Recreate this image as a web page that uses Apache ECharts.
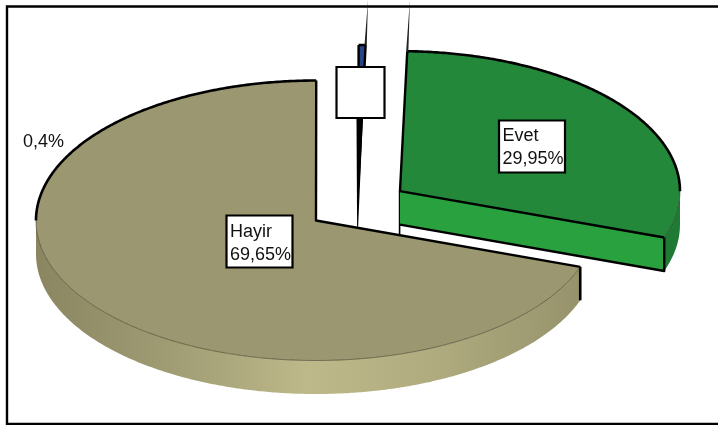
<!DOCTYPE html>
<html>
<head>
<meta charset="utf-8">
<style>html,body{margin:0;padding:0;background:#fff}#c{width:718px;height:425px}</style>
<script src="https://cdn.jsdelivr.net/npm/echarts@6/dist/echarts.min.js"></script>
</head>
<body>
<div id="c"></div>
<script>
// Answer shares, in drawing order clockwise from the top of the pie
const sliceNames = ['', 'Evet', 'Hayir'];
const sliceValues = [0.4, 29.95, 69.65];
const valueTexts = ['', '29,95%', '69,65%'];
const outsideLabel = '0,4%';

// Projection of the tilted pie
const pieCentre = [357.8, 205.7];
const radiusX = 280;
const radiusY = 140;
const depth = 33.5;
const firstAngle = 270.05;
const explode = [0.148, 0.183, 0.183];

const topColors = ['#2a4585', '#23883a', '#9b9770'];
const faceColors = ['#000000', '#2aa13f', '#9b9770'];
const wallColors = ['#111111', '#1f7a33', null];
const oliveWall = {
  type: 'linear', x: 0, y: 0, x2: 1, y2: 0,
  colorStops: [
    { offset: 0, color: '#8a8661' },
    { offset: 0.25, color: '#a09c74' },
    { offset: 0.5, color: '#bdb98a' },
    { offset: 0.75, color: '#aeaa7e' },
    { offset: 1, color: '#96926b' }
  ]
};
const boxes = [
  { x: 336.5, y: 67, w: 48, h: 51, tx: 0, ty: 0 },
  { x: 499, y: 120.5, w: 66, h: 52, tx: 3.5, ty: 3.5 },
  { x: 226.5, y: 215.5, w: 66, h: 52, tx: 3.5, ty: 4.5 }
];

const total = sliceValues.reduce((a, b) => a + b, 0);
const starts = [];
sliceValues.reduce((acc, v, i) => { starts[i] = acc; return acc + v / total * 360; }, firstAngle);

const rad = d => d * Math.PI / 180;

function arcPoints(cx, cy, a0, a1, dy) {
  const n = Math.max(2, Math.ceil(Math.abs(a1 - a0) * 2));
  const pts = [];
  for (let i = 0; i <= n; i++) {
    const a = rad(a0 + (a1 - a0) * i / n);
    pts.push([cx + radiusX * Math.cos(a), cy + radiusY * Math.sin(a) + (dy || 0)]);
  }
  return pts;
}

// Clip an angular span to the part that lies between two angles, modulo 360
function overlap(a0, a1, lo, hi) {
  for (const k of [-360, 0, 360]) {
    const s = Math.max(a0, lo + k), e = Math.min(a1, hi + k);
    if (e > s) return [s, e];
  }
  return null;
}

function renderSlice(params, api) {
  const i = params.dataIndex;
  const share = api.value(0);
  const a0 = starts[i];
  const a1 = a0 + share / total * 360;
  const mid = rad((a0 + a1) / 2);
  const cx = pieCentre[0] + explode[i] * radiusX * Math.cos(mid);
  const cy = pieCentre[1] + explode[i] * radiusY * Math.sin(mid);
  const children = [];
  const edge = '#000';
  const layer = i * 10;

  const poly = (points, fill, z2) => ({ type: 'polygon', z2: layer + z2, shape: { points }, style: { fill, stroke: null } });
  const line = (points, width, colour, z2) => ({
    type: 'polyline', z2: layer + z2, shape: { points },
    style: { fill: 'none', stroke: colour || edge, lineWidth: width, lineJoin: 'round', lineCap: 'butt' }
  });

  const startPt = [cx + radiusX * Math.cos(rad(a0)), cy + radiusY * Math.sin(rad(a0))];
  const endPt = [cx + radiusX * Math.cos(rad(a1)), cy + radiusY * Math.sin(rad(a1))];

  // Outer wall on the front half of the rim
  const front = overlap(a0, a1, 0, 180);
  if (front) {
    const upper = arcPoints(cx, cy, front[0], front[1], 0);
    const lower = arcPoints(cx, cy, front[1], front[0], depth);
    children.push(poly(upper.concat(lower), wallColors[i] || oliveWall, 1));
  }
  // Cut face turned towards the viewer
  if (i === 1) {
    const p = endPt;
    children.push(poly([[cx, cy], p, [p[0], p[1] + depth], [cx, cy + depth]], faceColors[i], 2));
    children.push(line([[p[0], p[1]], [p[0], p[1] + depth], [cx, cy + depth]], 2.4, edge, 5));
  }
  // End of the wall of the large slice
  if (i === 2) {
    children.push(line([startPt, [startPt[0], startPt[1] + depth]], 2.6, edge, 5));
  }
  // Top surface
  const topRim = arcPoints(cx, cy, a0, a1, 0);
  children.push(poly([[cx, cy]].concat(topRim), topColors[i], 3));

  // Rim: heavy along the back, hairline where the wall begins
  const back = overlap(a0, a1, 180, 360);
  if (back) children.push(line(arcPoints(cx, cy, back[0], back[1], 0), 2.6, edge, 6));
  if (front) children.push(line(arcPoints(cx, cy, front[0], front[1], 0), 0.7, 'rgba(40,40,20,0.75)', 6));

  // Straight edges running to the centre
  children.push(line([startPt, [cx, cy], endPt], 2.4, edge, 6));

  // Edge continuing past the rim to the top of the page, thinning out
  if (i !== 2) {
    const o = i === 1 ? startPt : endPt;
    const t = cy / (cy - o[1]);
    const tip = [cx + (o[0] - cx) * t, 0];
    children.push({
      type: 'polygon', z2: layer + 6,
      shape: { points: [[o[0] - 1.1, o[1]], [o[0] + 1.1, o[1]], tip] },
      style: { fill: '#222', stroke: null }
    });
  }
  // The sliver closes into a dark spike that runs down behind the large slice
  if (i === 0) {
    const halfway = (p, k) => [cx + (p[0] - cx) * k, cy + (p[1] - cy) * k];
    const l = halfway(startPt, 0.5);
    const r = halfway(endPt, 0.5);
    children.push(poly([[l[0] - 2, l[1]], [r[0] + 1, r[1]], [cx - 0.6, cy + 50], [cx - 1.2, cy + 50]], edge, 7));
  }
  if (i === 1) {
    children.push(line([[cx - 0.4, cy], [cx - 0.4, cy + 60]], 1.6, edge, 1));
  }

  // Label box
  const b = boxes[i];
  children.push({
    type: 'rect', z2: 60,
    shape: { x: b.x, y: b.y, width: b.w, height: b.h },
    style: { fill: '#fff', stroke: edge, lineWidth: 2.2 }
  });
  if (sliceNames[i]) {
    children.push({
      type: 'text', z2: 61, x: b.x + b.tx, y: b.y + b.ty,
      style: {
        text: sliceNames[i] + '\n' + valueTexts[i],
        font: '18px "Liberation Sans", Arial, sans-serif',
        lineHeight: 23.5, fill: '#111', align: 'left', verticalAlign: 'top'
      }
    });
  }
  return { type: 'group', children };
}

const chart = echarts.init(document.getElementById('c'), null, { renderer: 'canvas' });
chart.setOption({
  animation: false,
  backgroundColor: '#fff',
  graphic: [
    {
      type: 'rect', z: 0, silent: true,
      shape: { x: 7, y: 6.5, width: 720, height: 417.5 },
      style: { fill: 'none', stroke: '#000', lineWidth: 2.4 }
    },
    {
      type: 'text', z: 10, x: 23, y: 133, silent: true,
      style: { text: outsideLabel, font: '18px "Liberation Sans", Arial, sans-serif', fill: '#111' }
    }
  ],
  series: [{
    type: 'custom',
    coordinateSystem: 'none',
    clip: false,
    silent: true,
    renderItem: renderSlice,
    data: sliceValues.map(v => [v])
  }]
});
</script>
</body>
</html>
